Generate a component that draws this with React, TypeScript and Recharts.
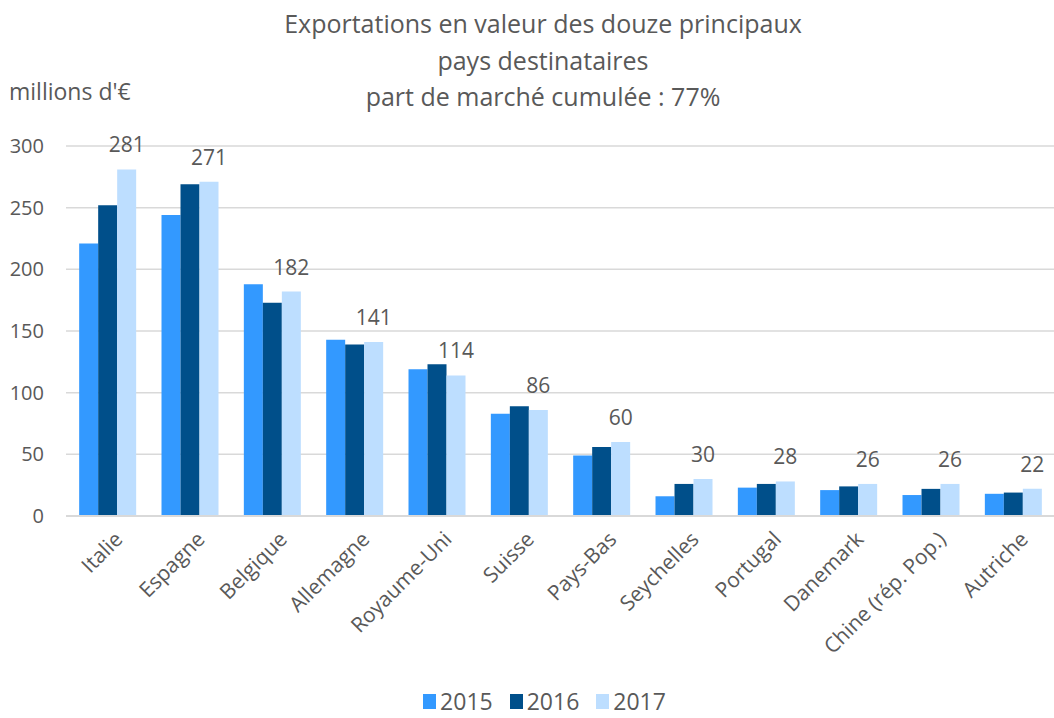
import React from "react";
import {
  BarChart, Bar, XAxis, YAxis, CartesianGrid, Legend, LabelList,
} from "recharts";

const countries = [
  "Italie", "Espagne", "Belgique", "Allemagne", "Royaume-Uni", "Suisse",
  "Pays-Bas", "Seychelles", "Portugal", "Danemark", "Chine (rép. Pop.)", "Autriche",
];
const v2015 = [221, 244, 188, 143, 119, 83, 49, 16, 23, 21, 17, 18];
const v2016 = [252, 269, 173, 139, 123, 89, 56, 26, 26, 24, 22, 19];
const v2017 = [281, 271, 182, 141, 114, 86, 60, 30, 28, 26, 26, 22];
const yTicks = [0, 50, 100, 150, 200, 250, 300];
const titleLines = [
  "Exportations en valeur des douze principaux",
  "pays destinataires",
  "part de marché cumulée : 77%",
];

const C2015 = "#3399FF";
const C2016 = "#004F8A";
const C2017 = "#BDDEFF";
const TXT = "#595959";
const FONT = "'Open Sans', sans-serif";

const data = countries.map((name, i) => ({
  name, y2015: v2015[i], y2016: v2016[i], y2017: v2017[i],
}));

// rotated category label, text ends at the tick
const CatTick = (props: any) => {
  const { x, y, payload } = props;
  return (
    <g transform={`translate(${x + 6},${y + 6})`}>
      <text x={0} y={0} dy={15} textAnchor="end" transform="rotate(-45)"
        fill={TXT} fontSize={21} fontFamily={FONT}>
        {payload.value}
      </text>
    </g>
  );
};

const LegendContent = (props: any) => {
  const { payload } = props;
  return (
    <div style={{ display: "flex", justifyContent: "center", alignItems: "center", height: 30, paddingLeft: 52 }}>
      {(payload || []).map((p: any) => (
        <div key={p.value} style={{ display: "flex", alignItems: "center", marginRight: 17 }}>
          <span style={{ display: "inline-block", width: 13, height: 15, background: p.color, marginRight: 4 }} />
          <span style={{ color: TXT, fontSize: 23, fontFamily: FONT }}>{p.value}</span>
        </div>
      ))}
    </div>
  );
};

export default function App() {
  return (
    <div style={{ position: "absolute", left: 0, top: 0, width: 1054, height: 718, background: "#fff", fontFamily: FONT }}>
      <div style={{ position: "absolute", left: 0, top: 5, width: 1086, textAlign: "center", color: TXT, fontSize: 25, lineHeight: "36.5px" }}>
        {titleLines.map((t, i) => <div key={i}>{t}</div>)}
      </div>
      <div style={{ position: "absolute", left: 9, top: 75, color: TXT, fontSize: 23 }}>millions d'€</div>
      <BarChart width={1054} height={718} data={data} barGap={0} barCategoryGap="16%"
        margin={{ top: 146, right: 0, left: 0, bottom: 0 }}>
        <CartesianGrid vertical={false} stroke="#D9D9D9" strokeWidth={1.5} />
        <XAxis dataKey="name" interval={0} height={172} tickLine={false}
          axisLine={{ stroke: "#D9D9D9", strokeWidth: 2 }} tick={<CatTick />} />
        <YAxis domain={[0, 300]} ticks={yTicks} width={66} axisLine={false} tickLine={false}
          tickSize={0} tickMargin={22} tick={{ fill: TXT, fontSize: 20, fontFamily: FONT }} />
        <Legend verticalAlign="bottom" content={<LegendContent />}
          wrapperStyle={{ bottom: 2, left: 0, width: 1054 }} />
        <Bar dataKey="y2015" name="2015" fill={C2015} isAnimationActive={false} />
        <Bar dataKey="y2016" name="2016" fill={C2016} isAnimationActive={false} />
        <Bar dataKey="y2017" name="2017" fill={C2017} isAnimationActive={false}>
          <LabelList dataKey="y2017" position="top" offset={17}
            style={{ fill: TXT, fontSize: 21, fontFamily: FONT }} />
        </Bar>
      </BarChart>
    </div>
  );
}
